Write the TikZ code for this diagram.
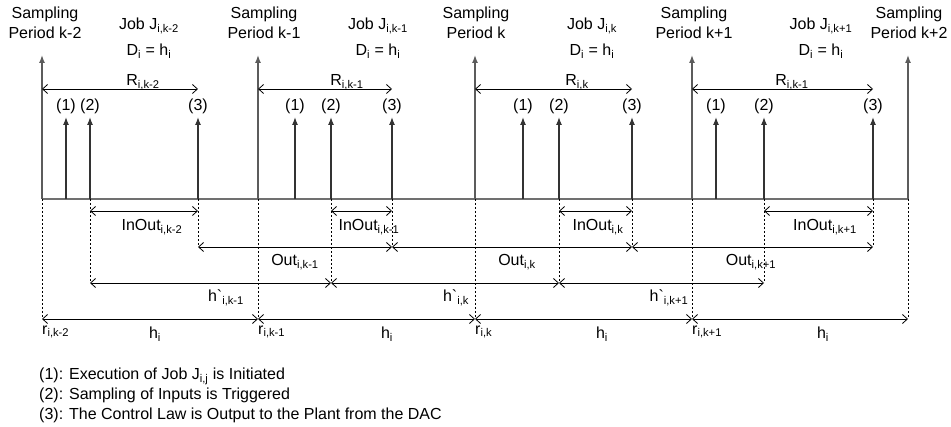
\documentclass[tikz,border=0pt]{standalone}
\usepackage{fontspec}
\setmainfont{Liberation Sans}
\usepackage{tikz}
\usetikzlibrary{arrows.meta,calc}
\definecolor{ink}     {HTML}{000000}
\definecolor{axisgray}{HTML}{707070}
\definecolor{sampgray}{HTML}{5C5C5C}
\tikzset{
  every node/.style={font=\fontsize{16}{20}\selectfont, inner sep=1pt},
  % --- lines
  axis/.style  = {draw=axisgray, line width=1.4pt},
  samp/.style  = {-{Latex[length=8pt,width=6pt]}, draw=sampgray, line width=1.4pt},
  evt/.style   = {-{Latex[length=8pt,width=6pt]}, draw=ink!80, line width=1.2pt},
  guide/.style = {draw=ink, dash pattern=on 2.5pt off 1.5pt, line width=0.7pt},
  span/.style  = {{Straight Barb[length=5pt,width=9pt]}-{Straight Barb[length=5pt,width=9pt]},
                  draw=ink, line width=0.8pt},
  % --- labels
  lbl/.style   = {align=center},
}

\begin{document}
\begin{tikzpicture}[x=1pt,y=-1pt]
  \useasboundingbox (0,0) rectangle (951,427);
  % rows
  \coordinate (stop)  at (0,55);
  \coordinate (etop)  at (0,117);
  \coordinate (rowR)  at (0,89);
  \coordinate (rowIO) at (0,211);
  \coordinate (rowO)  at (0,247);
  \coordinate (rowHp) at (0,283);
  \coordinate (rowH)  at (0,319);
  % sampling instants
  \foreach \n/\xs in {0/42,1/258,2/475,3/692,4/908}
    \coordinate (s\n) at (\xs,199);
  % events (1) (2) (3) of each job
  \foreach \n/\xa/\xb/\xc in {0/66/90/198,1/295/331/392,2/523/559/632,3/716/764/873}{
    \coordinate (a\n) at (\xa,199);
    \coordinate (b\n) at (\xb,199);
    \coordinate (c\n) at (\xc,199);
  }
  \draw[axis] (s0) -- (s4);
  \foreach \n in {0,...,4}{
    \draw[guide] (s\n) -- (s\n |- rowH);
    \draw[samp] (s\n) -- (s\n |- stop);
  }
  \foreach \n in {0,...,3}{
    \draw[guide] (b\n) -- (b\n |- rowHp);
    \draw[guide] (c\n) -- (c\n |- rowO);
    \draw[evt] (a\n) -- (a\n |- etop) node[above=2pt] (na\n) {(1)};
    \draw[evt] (b\n) -- (b\n |- etop) node[above=2pt] (nb\n) {(2)};
    \draw[evt] (c\n) -- (c\n |- etop) node[above=2pt] (nc\n) {(3)};
    \draw[span] (s\n |- rowR) -- (c\n |- rowR);
    \draw[span] (b\n |- rowIO) -- (c\n |- rowIO);
  }
  \foreach \n [count=\m] in {0,1,2}{
    \draw[span] (c\n |- rowO) -- (c\m |- rowO);
    \draw[span] (b\n |- rowHp) -- (b\m |- rowHp);
  }
  \foreach \n [count=\m] in {0,...,3}
    \draw[span] (s\n |- rowH) -- (s\m |- rowH);
  % labels
  \foreach \n/\x/\t in {0/45/k-2,1/264/k-1,2/476/k,3/694/k+1,4/909/k+2}
    \node[lbl] (sp\n) at (\x,23) {Sampling\\Period \t};
  \foreach \n/\x/\t in {0/149/k-2,1/378/k-1,2/592/k,3/821/k+1}{
    \node (job\n) at (\x,26) {Job J\textsubscript{i,\t}};
    \node (dl\n) at (\x,51) {D\textsubscript{i} = h\textsubscript{i}};
  }
  \foreach \n/\x/\t in {0/143/k-2,1/347/k-1,2/577/k,3/792/k-1}
    \node (rl\n) at (\x,82) {R\textsubscript{i,\t}};
  \foreach \n/\x/\t in {0/152/k-2,1/369/k-1,2/598/k,3/825/k+1}
    \node (io\n) at (\x,227) {InOut\textsubscript{i,\t}};
  \foreach \n/\x/\t in {1/295/k-1,2/517/k,3/751/k+1}
    \node (ol\n) at (\x,262) {Out\textsubscript{i,\t}};
  \foreach \n/\x/\t in {1/226/k-1,2/456/k,3/669/k+1}
    \node (hp\n) at (\x,298) {h\textasciigrave\textsubscript{i,\t}};
  \foreach \n/\x in {0/155,1/387,2/602,3/823}
    \node (hl\n) at (\x,334) {h\textsubscript{i}};
  \foreach \n/\x/\t in {0/41/k-2,1/257/k-1,2/474/k,3/691/k+1}
    \node[anchor=west] (rr\n) at (\x,332) {r\textsubscript{i,\t}};
  \node[anchor=north west, align=left] (legend) at (38,367)
    {(1): Execution of Job J\textsubscript{i,j} is Initiated\\
     (2): Sampling of Inputs is Triggered\\
     (3): The Control Law is Output to the Plant from the DAC};
\end{tikzpicture}
\end{document}
